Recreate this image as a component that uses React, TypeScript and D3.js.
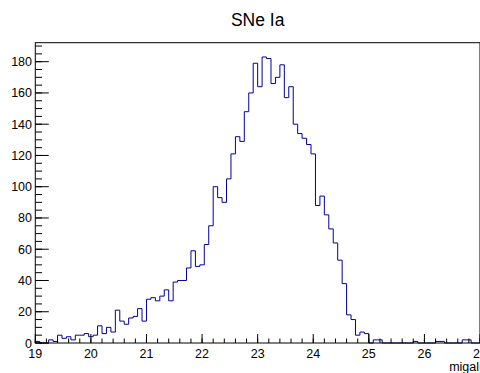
import React from "react";
import * as d3 from "d3";

const title = "SNe Ia";
const xTitle = "migal";
const xMin = 19;
const xMax = 27;
const counts = [
  1, 0, 0, 2, 1, 5, 3, 4, 2, 5,
  5, 6, 4, 5, 11, 6, 10, 7, 21, 14,
  12, 16, 17, 22, 14, 28, 29, 27, 30, 34,
  27, 39, 40, 40, 48, 59, 49, 50, 63, 75,
  100, 93, 90, 105, 121, 132, 129, 148, 160, 179,
  164, 183, 182, 166, 170, 178, 157, 164, 140, 134,
  131, 127, 121, 88, 94, 82, 73, 64, 53, 38,
  18, 15, 5, 7, 6, 0, 2, 2, 0, 0,
  0, 0, 0, 0, 0, 1, 0, 0, 0, 0,
  1, 1, 0, 0, 0, 0, 2, 2, 0, 0,
];
const xTickLabels = [19, 20, 21, 22, 23, 24, 25, 26, 27];
const yTickLabels = [0, 20, 40, 60, 80, 100, 120, 140, 160, 180];

const W = 480;
const H = 373;
const L = 35.3;
const R = 480;
const T = 42.7;
const B = 343;
const FONT = "'Liberation Sans', Arial, Helvetica, sans-serif";

export default function App() {
  const nb = counts.length;
  const bw = (xMax - xMin) / nb;
  const yMax = (d3.max(counts) as number) * 1.05;
  const x = d3.scaleLinear().domain([xMin, xMax]).range([L, R]);
  const y = d3.scaleLinear().domain([0, yMax]).range([B, T]);

  // step outline
  const pts: [number, number][] = [[x(xMin), y(0)]];
  counts.forEach((c, i) => {
    pts.push([x(xMin + i * bw), y(c)]);
    pts.push([x(xMin + (i + 1) * bw), y(c)]);
  });
  pts.push([x(xMax), y(0)]);
  const path = d3.line()(pts) as string;

  const xMinor = d3.range(xMin, xMax + 0.001, 0.2);
  const yMinor = d3.range(0, yMax, 5);

  return (
    <svg
      width={W}
      height={H}
      style={{ position: "absolute", left: 0, top: 0, background: "#fff" }}
    >
      <rect x={0} y={0} width={W} height={H} fill="#fff" />
      <text
        x={(L + R) / 2}
        y={26}
        textAnchor="middle"
        fontFamily={FONT}
        fontSize={17.5}
        fill="#000"
      >
        {title}
      </text>
      {/* histogram */}
      <path d={path} fill="none" stroke="#000099" strokeWidth={1} />
      {/* frame */}
      <rect
        x={L}
        y={T}
        width={R - L}
        height={B - T}
        fill="none"
        stroke="#000"
        strokeWidth={1}
      />
      {/* x ticks */}
      {xMinor.map((v, i) => (
        <line
          key={"xm" + i}
          x1={x(v)}
          x2={x(v)}
          y1={B}
          y2={B - 4.5}
          stroke="#000"
          strokeWidth={1}
        />
      ))}
      {xTickLabels.map((v) => (
        <g key={"xt" + v}>
          <line x1={x(v)} x2={x(v)} y1={B} y2={B - 9} stroke="#000" strokeWidth={1} />
          <text
            x={x(v)}
            y={357.5}
            textAnchor="middle"
            fontFamily={FONT}
            fontSize={12.5}
            fill="#000"
          >
            {v}
          </text>
        </g>
      ))}
      {/* y ticks */}
      {yMinor.map((v, i) => (
        <line
          key={"ym" + i}
          x1={L}
          x2={L + 6.7}
          y1={y(v)}
          y2={y(v)}
          stroke="#000"
          strokeWidth={1}
        />
      ))}
      {yTickLabels.map((v) => (
        <g key={"yt" + v}>
          <line x1={L} x2={L + 13.5} y1={y(v)} y2={y(v)} stroke="#000" strokeWidth={1} />
          <text
            x={32}
            y={y(v) + 4.5}
            textAnchor="end"
            fontFamily={FONT}
            fontSize={12.5}
            fill="#000"
          >
            {v}
          </text>
        </g>
      ))}
      <text
        x={479}
        y={371}
        textAnchor="end"
        fontFamily={FONT}
        fontSize={12.5}
        fill="#000"
      >
        {xTitle}
      </text>
    </svg>
  );
}
